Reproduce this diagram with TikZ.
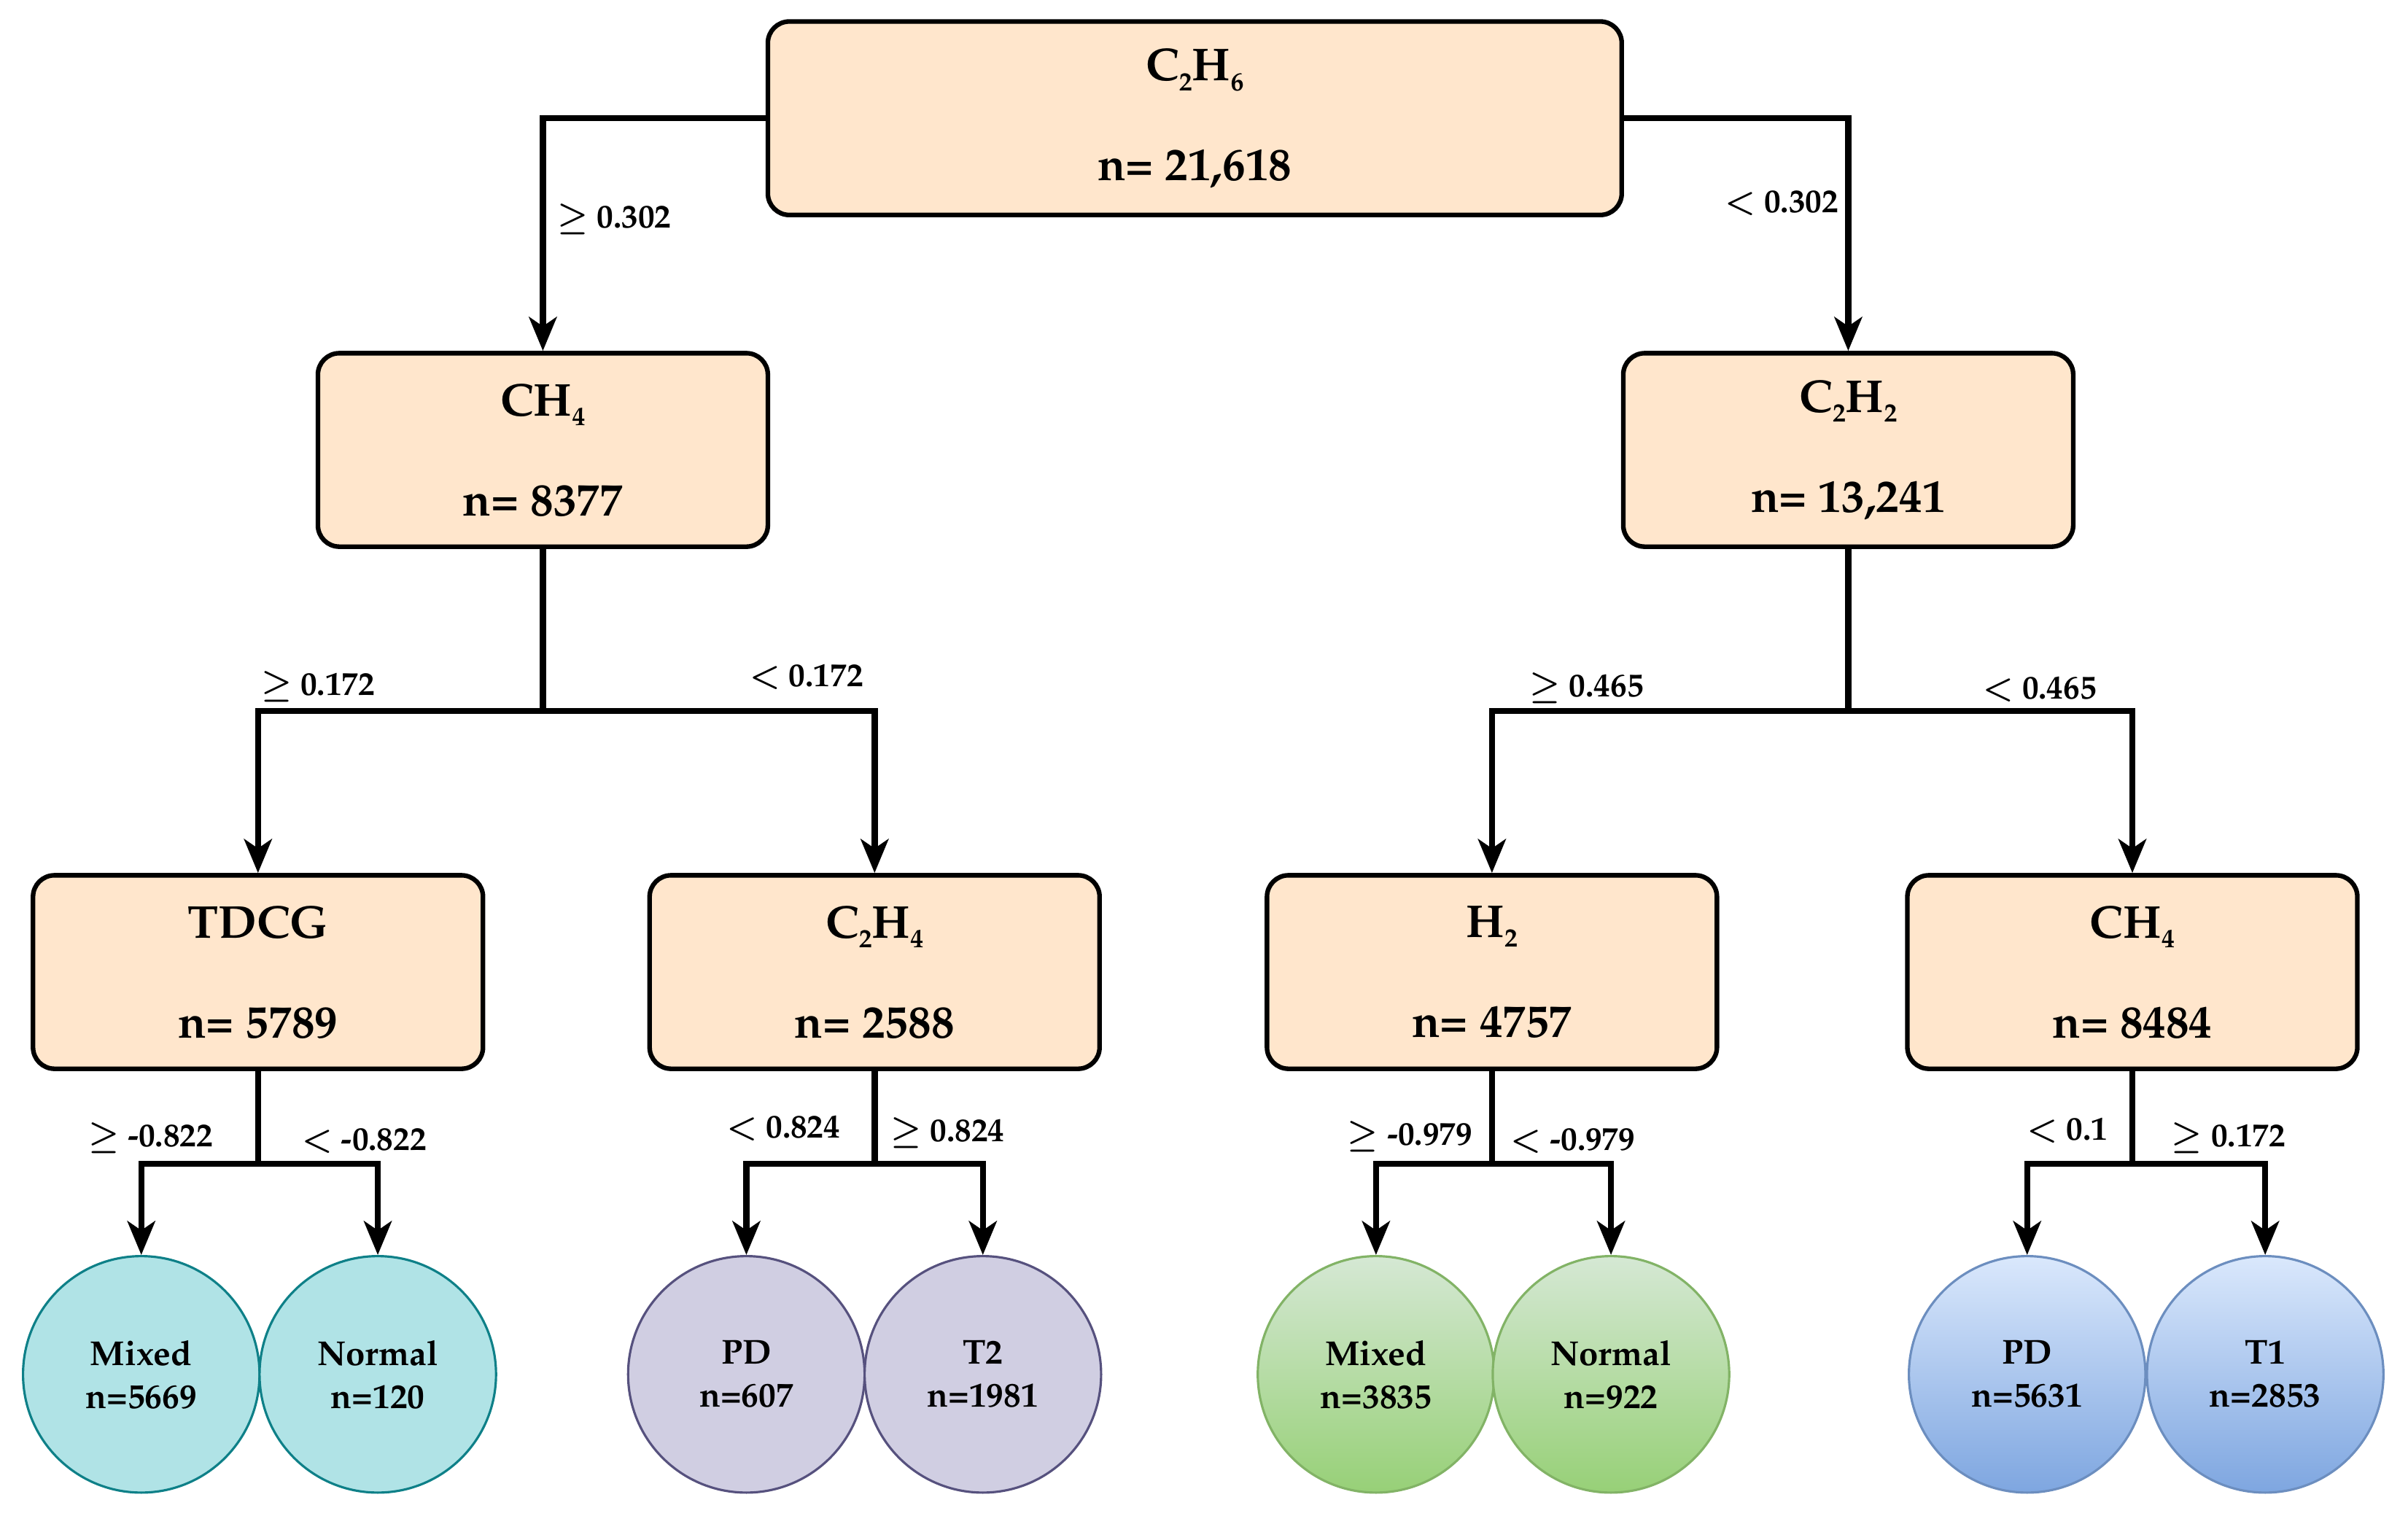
\documentclass[tikz,border=0pt]{standalone}
\usepackage[T1]{fontenc}
\usepackage{mathpazo}
\usetikzlibrary{arrows.meta}
\definecolor{peach}{HTML}{FFE6CC}
\definecolor{tealF}{HTML}{B0E3E6}
\definecolor{tealD}{HTML}{0E8088}
\definecolor{purpF}{HTML}{D0CEE2}
\definecolor{purpD}{HTML}{56517E}
\definecolor{grnT}{HTML}{D5E8D4}
\definecolor{grnB}{HTML}{97D077}
\definecolor{grnD}{HTML}{82B366}
\definecolor{bluT}{HTML}{DAE8FC}
\definecolor{bluB}{HTML}{7EA6E0}
\definecolor{bluD}{HTML}{6C8EBF}
\newcommand{\sbs}[1]{\raisebox{-0.45ex}{\fontsize{17}{17}\selectfont #1}}
\begin{document}
\begin{tikzpicture}[x=1pt,y=-1pt,
  gbox/.style={draw=black, line width=3pt, rounded corners=14pt, fill=peach,
    minimum width=293pt, minimum height=126pt, inner sep=0pt, align=center,
    font=\bfseries\fontsize{30}{34}\selectfont},
  conn/.style={line width=4pt, -{Stealth[length=22pt,width=18pt,inset=6pt]}},
  trunk/.style={line width=4pt},
  leaf/.style={circle, minimum size=154pt, inner sep=0pt, align=center, line width=1.5pt,
    font=\bfseries\fontsize{22.5}{28}\selectfont},
  lab/.style={font=\bfseries\boldmath\fontsize{21.5}{24}\selectfont, inner sep=0pt}
]
\useasboundingbox (0,0) rectangle (1568,987);

% decision boxes
\node[gbox, minimum width=556pt] (root) at (778,77) {C\sbs{2}H\sbs{6}\\[31pt]n= 21,618};
\node[gbox] (a) at (353.5,293) {CH\sbs{4}\\[31pt]n= 8377};
\node[gbox] (b) at (1203.5,293) {C\sbs{2}H\sbs{2}\\[31pt]n= 13,241};
\node[gbox] (c) at (168,633) {TDCG\\[31pt]n= 5789};
\node[gbox] (d) at (569.5,633) {C\sbs{2}H\sbs{4}\\[31pt]n= 2588};
\node[gbox] (e) at (971.5,633) {H\sbs{2}\\[31pt]n= 4757};
\node[gbox] (f) at (1388.5,633) {CH\sbs{4}\\[31pt]n= 8484};

% leaves
\node[leaf, fill=tealF, draw=tealD] (l1) at (92,895) {Mixed\\n=5669};
\node[leaf, fill=tealF, draw=tealD] (l2) at (246,895) {Normal\\n=120};
\node[leaf, fill=purpF, draw=purpD] (l3) at (486,895) {PD\\n=607};
\node[leaf, fill=purpF, draw=purpD] (l4) at (640,895) {T2\\n=1981};
\node[leaf, top color=grnT, bottom color=grnB, draw=grnD] (l5) at (896,895) {Mixed\\n=3835};
\node[leaf, top color=grnT, bottom color=grnB, draw=grnD] (l6) at (1049,895) {Normal\\n=922};
\node[leaf, top color=bluT, bottom color=bluB, draw=bluD] (l7) at (1320,895) {PD\\n=5631};
\node[leaf, top color=bluT, bottom color=bluB, draw=bluD] (l8) at (1475,895) {T1\\n=2853};

% connectors
\draw[conn] (root.west) -| (a.north);
\draw[conn] (root.east) -| (b.north);

\coordinate (ja) at (a.south |- 0,463);
\coordinate (jb) at (b.south |- 0,463);
\draw[trunk] (a.south) -- (ja);
\draw[trunk] (b.south) -- (jb);
\draw[conn] (ja) -| (c.north);
\draw[conn] (ja) -| (d.north);
\draw[conn] (jb) -| (e.north);
\draw[conn] (jb) -| (f.north);

\foreach \p/\x/\y in {c/l1/l2, d/l3/l4, e/l5/l6, f/l7/l8}{
  \coordinate (j\p) at (\p.south |- 0,758);
  \draw[trunk] (\p.south) -- (j\p);
  \draw[conn] (j\p) -| (\x.north);
  \draw[conn] (j\p) -| (\y.north);
}

% labels
\node[lab] (t1) at (400,143) {$\geq$ 0.302};
\node[lab] (t2) at (1160,132) {$<$ 0.302};
\node[lab] (t3) at (207,447) {$\geq$ 0.172};
\node[lab] (t4) at (525,441) {$<$ 0.172};
\node[lab] (t5) at (1033,448) {$\geq$ 0.465};
\node[lab] (t6) at (1328,449) {$<$ 0.465};
\node[lab] (t7) at (98,741) {$\geq$ -0.822};
\node[lab] (t8) at (237,743) {$<$ -0.822};
\node[lab] (t9) at (510,735) {$<$ 0.824};
\node[lab] (t10) at (617,738) {$\geq$ 0.824};
\node[lab] (t11) at (918,740) {$\geq$ -0.979};
\node[lab] (t12) at (1024,743) {$<$ -0.979};
\node[lab] (t13) at (1346,736) {$<$ 0.1};
\node[lab] (t14) at (1451,741) {$\geq$ 0.172};
\end{tikzpicture}
\end{document}
